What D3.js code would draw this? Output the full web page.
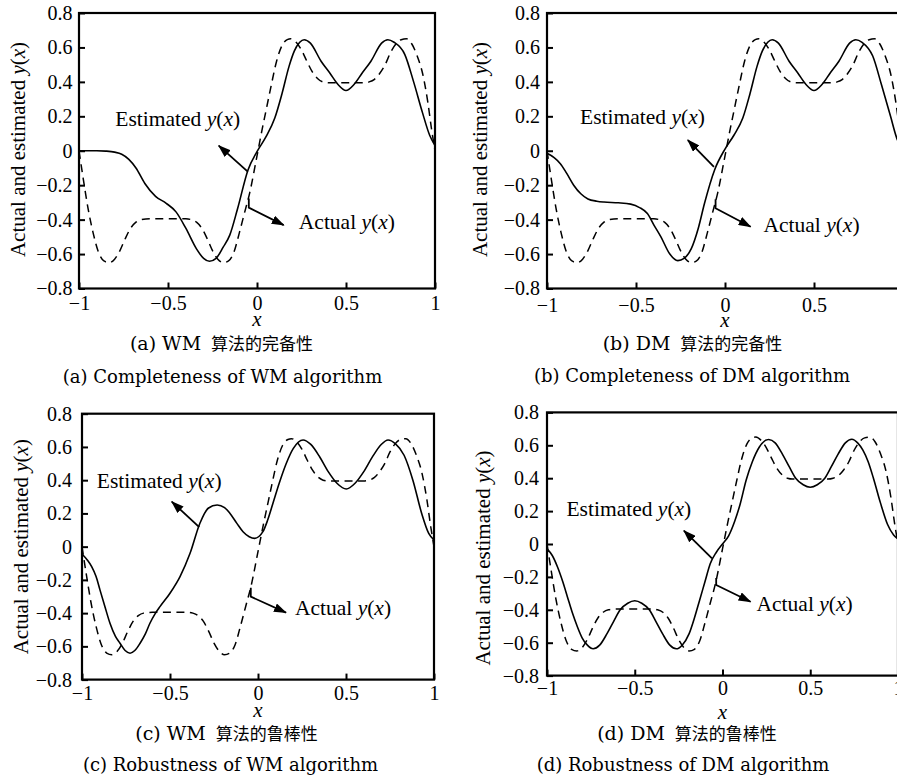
<!DOCTYPE html>
<html>
<head>
<meta charset="utf-8">
<script src="https://cdn.jsdelivr.net/npm/d3@7"></script>
<style>
  body { margin: 0; background: #fff; }
  svg { display: block; }
</style>
</head>
<body>
<div id="chart"></div>
<script>
const width = 897;
const height = 781;

const xTicks = [-1, -0.5, 0, 0.5, 1];
const yTicks = [-0.8, -0.6, -0.4, -0.2, 0, 0.2, 0.4, 0.6, 0.8];

// actual y(x) (dashed), same curve in every panel
const actualX = [-1, -0.975, -0.95, -0.92, -0.89, -0.86, -0.83, -0.8, -0.77, -0.74,
  -0.71, -0.68, -0.65, -0.6, -0.5, -0.4, -0.37, -0.34, -0.31, -0.28,
  -0.25, -0.22, -0.19, -0.16, -0.13, -0.1, -0.07, -0.04, 0, 0.03,
  0.05, 0.08, 0.11, 0.14, 0.17, 0.19, 0.22, 0.25, 0.28, 0.31,
  0.34, 0.37, 0.4, 0.5, 0.6, 0.63, 0.66, 0.69, 0.72, 0.75,
  0.78, 0.81, 0.84, 0.87, 0.9, 0.93, 0.96, 0.98, 1];
const actualY = [0, -0.17, -0.33, -0.48, -0.59, -0.64, -0.65, -0.63, -0.58, -0.51,
  -0.45, -0.415, -0.4, -0.395, -0.395, -0.395, -0.4, -0.415, -0.45, -0.51,
  -0.58, -0.63, -0.65, -0.64, -0.59, -0.48, -0.36, -0.24, -0.03, 0.13,
  0.23, 0.38, 0.52, 0.61, 0.645, 0.65, 0.63, 0.585, 0.52, 0.46,
  0.42, 0.40, 0.395, 0.395, 0.395, 0.40, 0.415, 0.45, 0.5, 0.57,
  0.62, 0.645, 0.65, 0.62, 0.55, 0.45, 0.28, 0.13, 0];

// estimated y(x) (solid), one per panel
const estAX = [-1, -0.95, -0.9, -0.85, -0.8, -0.76, -0.72, -0.68, -0.63, -0.57,
  -0.51, -0.455, -0.4, -0.34, -0.3, -0.267, -0.23, -0.19, -0.153, -0.11,
  -0.05, 0, 0.05, 0.1, 0.14, 0.18, 0.21, 0.24, 0.265, 0.3,
  0.36, 0.41, 0.455, 0.5, 0.545, 0.59, 0.64, 0.7, 0.735, 0.77,
  0.83, 0.88, 0.93, 0.97, 1];
const estAY = [0, 0, 0, -0.002, -0.008, -0.02, -0.05, -0.1, -0.19, -0.265,
  -0.305, -0.355, -0.45, -0.57, -0.625, -0.642, -0.625, -0.56, -0.49, -0.34,
  -0.11, -0.005, 0.08, 0.19, 0.33, 0.49, 0.58, 0.63, 0.645, 0.625,
  0.52, 0.45, 0.385, 0.35, 0.385, 0.45, 0.52, 0.625, 0.645, 0.63,
  0.56, 0.40, 0.22, 0.09, 0.03];

const estBX = [-1, -0.96, -0.925, -0.89, -0.85, -0.81, -0.77, -0.72, -0.68, -0.6,
  -0.53, -0.48, -0.436, -0.4, -0.36, -0.31, -0.265, -0.23, -0.19, -0.15,
  -0.115, -0.058, 0, 0.05, 0.1, 0.14, 0.18, 0.21, 0.24, 0.265,
  0.3, 0.36, 0.41, 0.455, 0.5, 0.545, 0.59, 0.64, 0.7, 0.735,
  0.77, 0.83, 0.88, 0.93, 0.97, 1];
const estBY = [-0.015, -0.04, -0.075, -0.13, -0.2, -0.25, -0.28, -0.293, -0.298, -0.302,
  -0.31, -0.33, -0.365, -0.43, -0.5, -0.6, -0.638, -0.625, -0.57, -0.45,
  -0.305, -0.11, 0.01, 0.09, 0.19, 0.33, 0.49, 0.58, 0.63, 0.645,
  0.625, 0.52, 0.45, 0.385, 0.35, 0.385, 0.45, 0.52, 0.625, 0.645,
  0.63, 0.55, 0.38, 0.2, 0.06, 0.02];

const estCX = [-1, -0.97, -0.945, -0.92, -0.898, -0.87, -0.841, -0.81, -0.784, -0.755,
  -0.727, -0.7, -0.67, -0.64, -0.614, -0.585, -0.557, -0.5, -0.443, -0.386,
  -0.33, -0.283, -0.232, -0.19, -0.16, -0.12, -0.085, -0.05, -0.019, 0.028,
  0.055, 0.085, 0.12, 0.161, 0.2, 0.256, 0.3, 0.35, 0.4, 0.45,
  0.502, 0.55, 0.6, 0.65, 0.7, 0.739, 0.78, 0.83, 0.88, 0.93,
  0.97, 1];
const estCY = [-0.044, -0.08, -0.12, -0.18, -0.26, -0.36, -0.461, -0.54, -0.581, -0.625,
  -0.641, -0.625, -0.581, -0.525, -0.461, -0.405, -0.361, -0.28, -0.18, -0.04,
  0.141, 0.231, 0.251, 0.235, 0.201, 0.14, 0.09, 0.06, 0.05, 0.09,
  0.16, 0.261, 0.38, 0.502, 0.59, 0.642, 0.615, 0.541, 0.45, 0.38,
  0.347, 0.38, 0.45, 0.54, 0.615, 0.642, 0.62, 0.55, 0.40, 0.2,
  0.08, 0.04];

const estDX = [-1, -0.97, -0.94, -0.91, -0.884, -0.855, -0.828, -0.8, -0.77, -0.737,
  -0.7, -0.658, -0.62, -0.583, -0.54, -0.5, -0.46, -0.417, -0.38, -0.342,
  -0.3, -0.263, -0.23, -0.19, -0.16, -0.13, -0.1, -0.07, -0.035, 0,
  0.035, 0.07, 0.1, 0.135, 0.17, 0.21, 0.263, 0.3, 0.342, 0.38,
  0.417, 0.46, 0.5, 0.54, 0.583, 0.62, 0.658, 0.7, 0.737, 0.77,
  0.8, 0.83, 0.86, 0.9, 0.94, 0.975, 1];
const estDY = [-0.03, -0.07, -0.14, -0.23, -0.32, -0.42, -0.5, -0.57, -0.615, -0.637,
  -0.615, -0.545, -0.47, -0.40, -0.36, -0.345, -0.36, -0.40, -0.47, -0.545,
  -0.615, -0.637, -0.615, -0.545, -0.45, -0.34, -0.23, -0.12, -0.05, 0,
  0.05, 0.14, 0.24, 0.389, 0.5, 0.59, 0.635, 0.615, 0.545, 0.47,
  0.40, 0.36, 0.345, 0.36, 0.40, 0.47, 0.545, 0.615, 0.637, 0.615,
  0.57, 0.5, 0.4, 0.25, 0.12, 0.055, 0.03];

const captionsCN = ["(a) WM 算法的完备性", "(b) DM 算法的完备性", "(c) WM 算法的鲁棒性", "(d) DM 算法的鲁棒性"];
const captionsEN = ["(a) Completeness of WM algorithm", "(b) Completeness of DM algorithm",
  "(c) Robustness of WM algorithm", "(d) Robustness of DM algorithm"];

// layout of each panel (pixels), annotation anchors in data units
const panels = [
  { left: 79, right: 435, top: 13, bottom: 288.5, ex: estAX, ey: estAY,
    yPad: 6.5, xPad: 7, yLab: [25, 149.5], xLabY: 326,
    cn: [221.5, 350], en: [222.5, 382.5],
    estText: [-0.796, 0.144], estArrow: [[-0.052, -0.121], [-0.215, 0.03]],
    actText: [0.235, -0.457], actArrow: [[-0.046, -0.33], [0.15, -0.432]], stub: 9 },
  { left: 547, right: 903, top: 13, bottom: 288.5, ex: estBX, ey: estBY,
    yPad: 7, xPad: 9, yLab: [487, 149.5], xLabY: 327,
    cn: [692.5, 350], en: [692, 382],
    estText: [-0.814, 0.155], estArrow: [[-0.062, -0.093], [-0.209, 0.062]],
    actText: [0.216, -0.47], actArrow: [[-0.053, -0.334], [0.144, -0.441]], stub: 9 },
  { left: 82, right: 434, top: 413.7, bottom: 679.6, ex: estCX, ey: estCY,
    yPad: 10, xPad: 6.5, yLab: [27.5, 546.7], xLabY: 717,
    cn: [226.5, 740], en: [230.5, 771],
    estText: [-0.916, 0.351], estArrow: [[-0.334, 0.117], [-0.49, 0.271]],
    actText: [0.21, -0.411], actArrow: [[-0.041, -0.301], [0.159, -0.397]], stub: 9 },
  { left: 547, right: 898, top: 412.4, bottom: 675.6, ex: estDX, ey: estDY,
    yPad: 8, xPad: 5.5, yLab: [490, 558], xLabY: 719,
    cn: [687, 740], en: [683, 771],
    estText: [-0.889, 0.17], estArrow: [[-0.06, -0.087], [-0.22, 0.081]],
    actText: [0.194, -0.406], actArrow: [[-0.036, -0.249], [0.16, -0.351]], stub: 7 }
];

const serif = "'Liberation Serif', 'Times New Roman', serif";
const capFont = "'DejaVu Serif', 'Noto Sans CJK SC', serif";

const svg = d3.select("#chart")
  .append("svg")
  .attr("width", width)
  .attr("height", height);

svg.append("defs").append("marker")
  .attr("id", "arrow")
  .attr("markerUnits", "userSpaceOnUse")
  .attr("markerWidth", 13)
  .attr("markerHeight", 9)
  .attr("refX", 12)
  .attr("refY", 4.5)
  .attr("orient", "auto")
  .append("path")
  .attr("d", "M0,0 L13,4.5 L0,9 Z")
  .attr("fill", "#000");

// "label y(x)" with italic y and x
function yxText(sel, label) {
  sel.append("tspan").text(label);
  sel.append("tspan").attr("font-style", "italic").text("y");
  sel.append("tspan").text("(");
  sel.append("tspan").attr("font-style", "italic").text("x");
  sel.append("tspan").text(")");
}

panels.forEach((p, i) => {
  const x = d3.scaleLinear().domain([-1, 1]).range([p.left, p.right]);
  const y = d3.scaleLinear().domain([-0.8, 0.8]).range([p.bottom, p.top]);
  const g = svg.append("g");

  const line = d3.line()
    .x(d => x(d[0]))
    .y(d => y(d[1]))
    .curve(d3.curveMonotoneX);

  g.append("path")
    .datum(d3.zip(actualX, actualY))
    .attr("d", line)
    .attr("fill", "none")
    .attr("stroke", "#000")
    .attr("stroke-width", 1.5)
    .attr("stroke-dasharray", "8,5.5");

  g.append("path")
    .datum(d3.zip(p.ex, p.ey))
    .attr("d", line)
    .attr("fill", "none")
    .attr("stroke", "#000")
    .attr("stroke-width", 1.6);

  // axes, ticks pointing inward
  const fmt = d3.format(".1~f");
  const yAxis = g.append("g")
    .attr("transform", `translate(${p.left},0)`)
    .call(d3.axisLeft(y).tickValues(yTicks).tickSize(-6).tickPadding(p.yPad).tickFormat(fmt));
  const xAxis = g.append("g")
    .attr("transform", `translate(0,${p.bottom})`)
    .call(d3.axisBottom(x).tickValues(xTicks).tickSize(-6).tickPadding(p.xPad).tickFormat(fmt));
  [yAxis, xAxis].forEach(a => {
    a.select(".domain").remove();
    a.selectAll(".tick line").attr("stroke-width", 2);
    a.selectAll(".tick text")
      .attr("font-family", serif)
      .attr("font-size", 20)
      .attr("fill", "#000");
  });

  g.append("rect")
    .attr("x", p.left)
    .attr("y", p.top)
    .attr("width", p.right - p.left)
    .attr("height", p.bottom - p.top)
    .attr("fill", "none")
    .attr("stroke", "#000")
    .attr("stroke-width", 2.2);

  g.append("text")
    .attr("transform", `translate(${p.yLab[0]},${p.yLab[1]}) rotate(-90)`)
    .attr("text-anchor", "middle")
    .attr("font-family", serif)
    .attr("font-size", 21)
    .call(yxText, "Actual and estimated ");

  g.append("text")
    .attr("x", (p.left + p.right) / 2)
    .attr("y", p.xLabY)
    .attr("text-anchor", "middle")
    .attr("font-family", serif)
    .attr("font-style", "italic")
    .attr("font-size", 21)
    .text("x");

  // annotations
  g.append("text")
    .attr("x", x(p.estText[0]))
    .attr("y", y(p.estText[1]))
    .attr("font-family", serif)
    .attr("font-size", 21.5)
    .call(yxText, "Estimated ");
  g.append("text")
    .attr("x", x(p.actText[0]))
    .attr("y", y(p.actText[1]))
    .attr("font-family", serif)
    .attr("font-size", 21.5)
    .call(yxText, "Actual ");

  const e = p.estArrow;
  g.append("path")
    .attr("d", d3.line()([[x(e[0][0]), y(e[0][1])], [x(e[1][0]), y(e[1][1])]]))
    .attr("fill", "none")
    .attr("stroke", "#000")
    .attr("stroke-width", 1.8)
    .attr("marker-end", "url(#arrow)");

  // actual arrow starts with a short vertical stub on the dashed curve
  const a = p.actArrow;
  const ax0 = x(a[0][0]), ay0 = y(a[0][1]);
  g.append("path")
    .attr("d", d3.line()([[ax0, ay0 - p.stub], [ax0, ay0], [x(a[1][0]), y(a[1][1])]]))
    .attr("fill", "none")
    .attr("stroke", "#000")
    .attr("stroke-width", 1.8)
    .attr("marker-end", "url(#arrow)");

  // captions
  const parts = captionsCN[i].split(" ");
  const cn = g.append("text")
    .attr("x", p.cn[0])
    .attr("y", p.cn[1])
    .attr("text-anchor", "middle")
    .attr("font-family", capFont)
    .attr("font-size", 19);
  cn.append("tspan").text(parts[0] + " " + parts[1]);
  cn.append("tspan").attr("dx", 10).attr("font-size", 17).text(parts[2]);

  g.append("text")
    .attr("x", p.en[0])
    .attr("y", p.en[1])
    .attr("text-anchor", "middle")
    .attr("font-family", capFont)
    .attr("font-size", 18)
    .text(captionsEN[i]);
});
</script>
</body>
</html>
